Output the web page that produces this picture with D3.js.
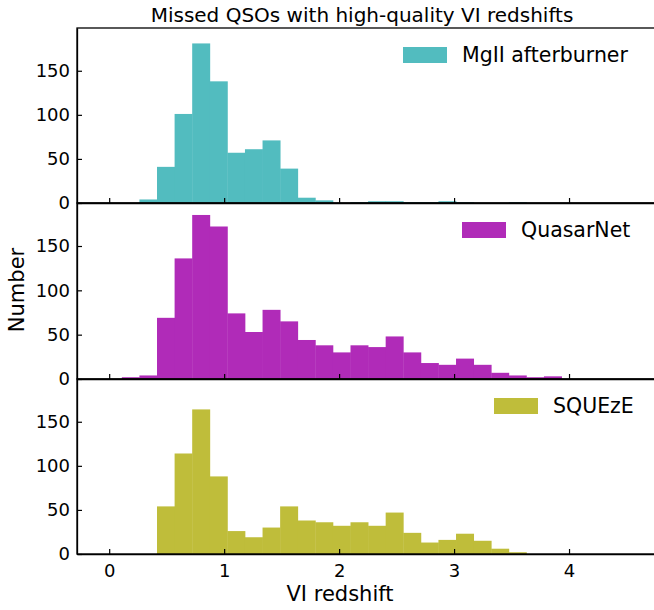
<!DOCTYPE html>
<html><head><meta charset="utf-8">
<script src="https://cdn.jsdelivr.net/npm/d3@7"></script>
<style>body{margin:0;background:#fff}</style></head>
<body><svg id="c" width="654" height="610"></svg>
<script>
const binStart = 0.11, binWidth = 0.153;
const mgii = [0,4,41,101,181,138,57,61,71,39,6,3,0,1,2,2,1,1,2,1,0,0,1,0,0,0];
const qnet = [2,4,69,136,185,172,74,53,78,65,44,38,30,38,36,48,30,18,16,23,16,7,4,2,3,0];
const squeze = [0,0,54,114,164,88,26,19,30,54,38,36,32,36,32,47,24,13,16,23,15,6,2,0,0,0];
const names = ["MgII afterburner","QuasarNet","SQUEzE"];
const colors = ["#52bcbf","#b02bb8","#bfbd3a"];
const xTicks = [0,1,2,3,4];
const yTicks = [0,50,100,150];
const series = [mgii,qnet,squeze];

const svg = d3.select("#c");
const font = "DejaVu Sans, sans-serif";
const L = 77, R = 660;
const x = d3.scaleLinear().domain([-0.28, (R-109)/115]).range([L, R]);
const panels = [[28,203],[203,379],[379,554]];
const legX = [447,506,538];

svg.append("text").attr("x",362).attr("y",22).attr("text-anchor","middle")
  .attr("font-family",font).attr("font-size",20).text("Missed QSOs with high-quality VI redshifts");

series.forEach((vals,i)=>{
  const [t,b] = panels[i];
  const y = d3.scaleLinear().domain([0,198.5]).range([b,t]);
  const g = svg.append("g");
  g.selectAll("rect").data(vals).join("rect")
    .attr("x",(d,k)=>x(binStart+k*binWidth))
    .attr("width",(d,k)=>x(binStart+(k+1)*binWidth)-x(binStart+k*binWidth)+0.4)
    .attr("y",d=>y(d)).attr("height",d=>b-y(d)).attr("fill",colors[i]);
  const ya = g.append("g").attr("transform",`translate(${L},0)`)
    .call(d3.axisLeft(y).tickValues(yTicks).tickFormat(d3.format("d")).tickSizeInner(-5).tickSizeOuter(0).tickPadding(7));
  const xa = g.append("g").attr("transform",`translate(0,${b})`)
    .call(d3.axisBottom(x).tickValues(xTicks).tickFormat(d3.format("d")).tickSizeInner(-5).tickSizeOuter(0).tickPadding(10));
  if(i<2) xa.selectAll("text").remove();
  [ya,xa].forEach(a=>{a.selectAll("text").attr("font-family",font).attr("font-size",18).attr("fill","#000");
    a.select(".domain").attr("stroke","#000").attr("stroke-width",1.3);
    a.selectAll(".tick line").attr("stroke","#000").attr("stroke-width",1.2);});
  g.append("rect").attr("x",L).attr("y",t).attr("width",R-L).attr("height",b-t)
    .attr("fill","none").attr("stroke","#000").attr("stroke-width",1.3);
  const ly = t+27;
  g.append("rect").attr("x",legX[i]-44).attr("y",ly-8).attr("width",44).attr("height",16).attr("fill",colors[i]);
  g.append("text").attr("x",legX[i]+15).attr("y",ly+7).attr("text-anchor","start")
    .attr("font-family",font).attr("font-size",20.5).text(names[i]);
});
svg.append("text").attr("x",340).attr("y",601).attr("text-anchor","middle")
  .attr("font-family",font).attr("font-size",21).text("VI redshift");
svg.append("text").attr("transform","translate(24,290) rotate(-90)").attr("text-anchor","middle")
  .attr("font-family",font).attr("font-size",21).text("Number");
</script></body></html>
